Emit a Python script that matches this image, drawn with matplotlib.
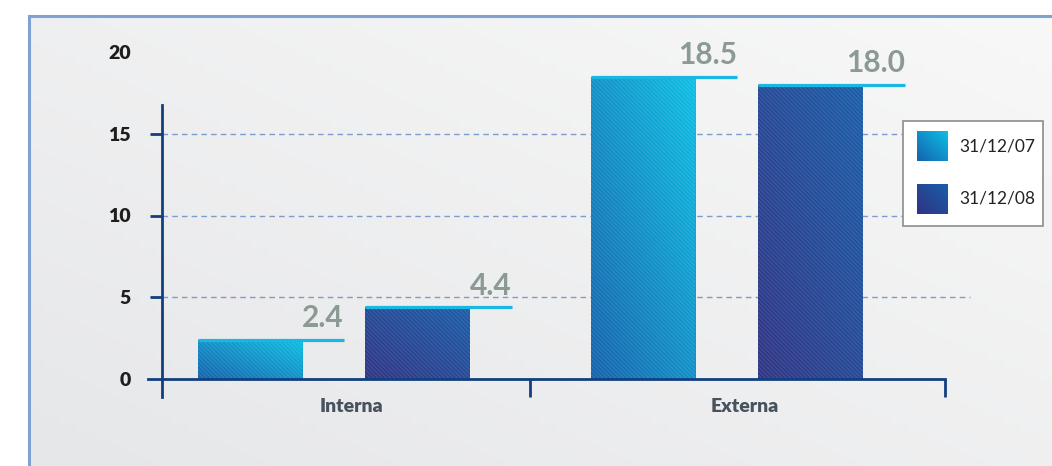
import numpy as np
import matplotlib
matplotlib.use("Agg")
import matplotlib.pyplot as plt
from matplotlib.patches import Rectangle
from matplotlib.colors import to_rgb
from matplotlib.lines import Line2D

# ---- data ----
categories = ["Interna", "Externa"]
series_names = ["31/12/07", "31/12/08"]
values_07 = [2.4, 18.5]
values_08 = [4.4, 18.0]
value_labels_07 = ["2.4", "18.5"]
value_labels_08 = ["4.4", "18.0"]
yticks = [0, 5, 10, 15, 20]

W, H = 1052, 466
fig = plt.figure(figsize=(W / 100, H / 100), dpi=100)
fig.patch.set_facecolor("white")

def fx(px):
    return px / W

def fy(py):
    return (H - py) / H

def grad_array(c0, c1, n=64, wu=0.5):
    u = np.linspace(0, 1, n)
    U, V = np.meshgrid(u, u)
    t = (U * wu + V * (1 - wu))
    a, b = np.array(to_rgb(c0)), np.array(to_rgb(c1))
    return a[None, None, :] * (1 - t[..., None]) + b[None, None, :] * t[..., None]

# ---- panel background ----
bg = fig.add_axes([fx(28), 0, 1 - fx(28), fy(15)], zorder=-5)
bg.imshow(grad_array("#e6e7e9", "#f8f8f8"), origin="lower", aspect="auto",
          extent=[0, 1, 0, 1])
bg.set_axis_off()
fig.add_artist(Line2D([fx(29), 1], [fy(16), fy(16)], color="#7ea3d2", lw=2.2,
                      transform=fig.transFigure))
fig.add_artist(Line2D([fx(29), fx(29)], [0, fy(16)], color="#7ea3d2", lw=2.2,
                      transform=fig.transFigure))

# ---- main axes ----
px_per_unit = 393.0
c0_px = 333.75
ppy = 16.35
def ux(px):
    return (px - c0_px) / px_per_unit

x_left, x_right = ux(148), ux(975)
y_bot, y_top = -(397 - 379) / ppy, (379 - 44) / ppy
ax = fig.add_axes([fx(148), fy(397), fx(975) - fx(148), fy(44) - fy(397)])
ax.set_xlim(x_left, x_right)
ax.set_ylim(y_bot, y_top)
ax.patch.set_alpha(0)

axis_col = "#123f7e"
for s in ["top", "right"]:
    ax.spines[s].set_visible(False)
ax.spines["left"].set_position(("data", ux(162)))
ax.spines["left"].set_bounds(y_bot, (379 - 105) / ppy)
ax.spines["bottom"].set_position(("data", 0))
ax.spines["bottom"].set_bounds(x_left, ux(945))
for s in ["left", "bottom"]:
    ax.spines[s].set_color(axis_col)
    ax.spines[s].set_linewidth(2)
    ax.spines[s].set_zorder(6)

ax.set_yticks(yticks)
ax.set_yticklabels([str(v) for v in yticks], fontsize=14, fontweight="heavy",
                   color="#1e1e1e", family=["Lato", "DejaVu Sans"])
ax.tick_params(axis="y", direction="out", length=8.6, width=2, color=axis_col, pad=14)
ax.yaxis.get_major_ticks()[-1].tick1line.set_visible(False)
ax.yaxis.get_major_ticks()[0].tick1line.set_visible(False)
ax.set_xticks([0.5, ux(945)])
ax.set_xticklabels(["", ""])
ax.tick_params(axis="x", direction="out", length=13, width=2, color=axis_col)

# gridlines
ax.hlines([5, 10, 15], ux(162), ux(970), colors="#7b9dcc", lw=1,
          linestyles=(0, (4, 3)), zorder=1)

# ---- bars ----
x = np.arange(len(categories))
off = 0.213
bw = 0.265
ext = 42 / px_per_unit
grads = [("#1462ad", "#0dbfe4"), ("#2f3484", "#1a5da8")]
for i, (vals, labs) in enumerate([(values_07, value_labels_07), (values_08, value_labels_08)]):
    pos = x + (off if i else -off)
    bars = ax.bar(pos, vals, width=bw, color="none", lw=0, zorder=3)
    for b, v, lab in zip(bars, vals, labs):
        x0 = b.get_x()
        im = ax.imshow(grad_array(*grads[i], wu=0.5), origin="lower", aspect="auto",
                       extent=[x0, x0 + bw, 0, v], zorder=2)
        im.set_clip_path(b)
        b.set_hatch("\\\\\\\\\\\\\\\\")
        b.set_edgecolor((1, 1, 1, 0.10))
        ax.plot([x0, x0 + bw + ext], [v, v], color="#1bb7e3", lw=2.3,
                solid_capstyle="butt", zorder=4)
        ax.text(x0 + bw + ext, v + 0.45, lab, ha="right", va="bottom",
                fontsize=21.5, fontweight="bold", color="#8b9a93",
                family=["Lato", "DejaVu Sans"], zorder=5)
ax.set_xlim(x_left, x_right)
ax.set_ylim(y_bot, y_top)

# category labels
for xi, cat in zip(x, categories):
    ax.text(xi + 0.045, -(407 - 379) / ppy, cat, ha="center", va="center",
            fontsize=14, fontweight="heavy", color="#46525d",
            family=["Lato", "DejaVu Sans"], clip_on=False)

# ---- legend ----
fig.add_artist(Rectangle((fx(903), fy(226)), fx(1043) - fx(903), fy(121) - fy(226),
                         transform=fig.transFigure, facecolor="white",
                         edgecolor="#8c8c8c", lw=1.2, zorder=8))
for i, name in enumerate(series_names):
    top = 131 + i * 53
    la = fig.add_axes([fx(917), fy(top + 30), fx(31), 30 / H], zorder=9)
    la.imshow(grad_array(*grads[i]), origin="lower", aspect="auto")
    la.set_axis_off()
    fig.text(fx(959), fy(top + 15), name, ha="left", va="center", fontsize=12.5,
             color="#222222", family=["Lato", "DejaVu Sans"], zorder=10)

fig.savefig("out.png", dpi=100)
